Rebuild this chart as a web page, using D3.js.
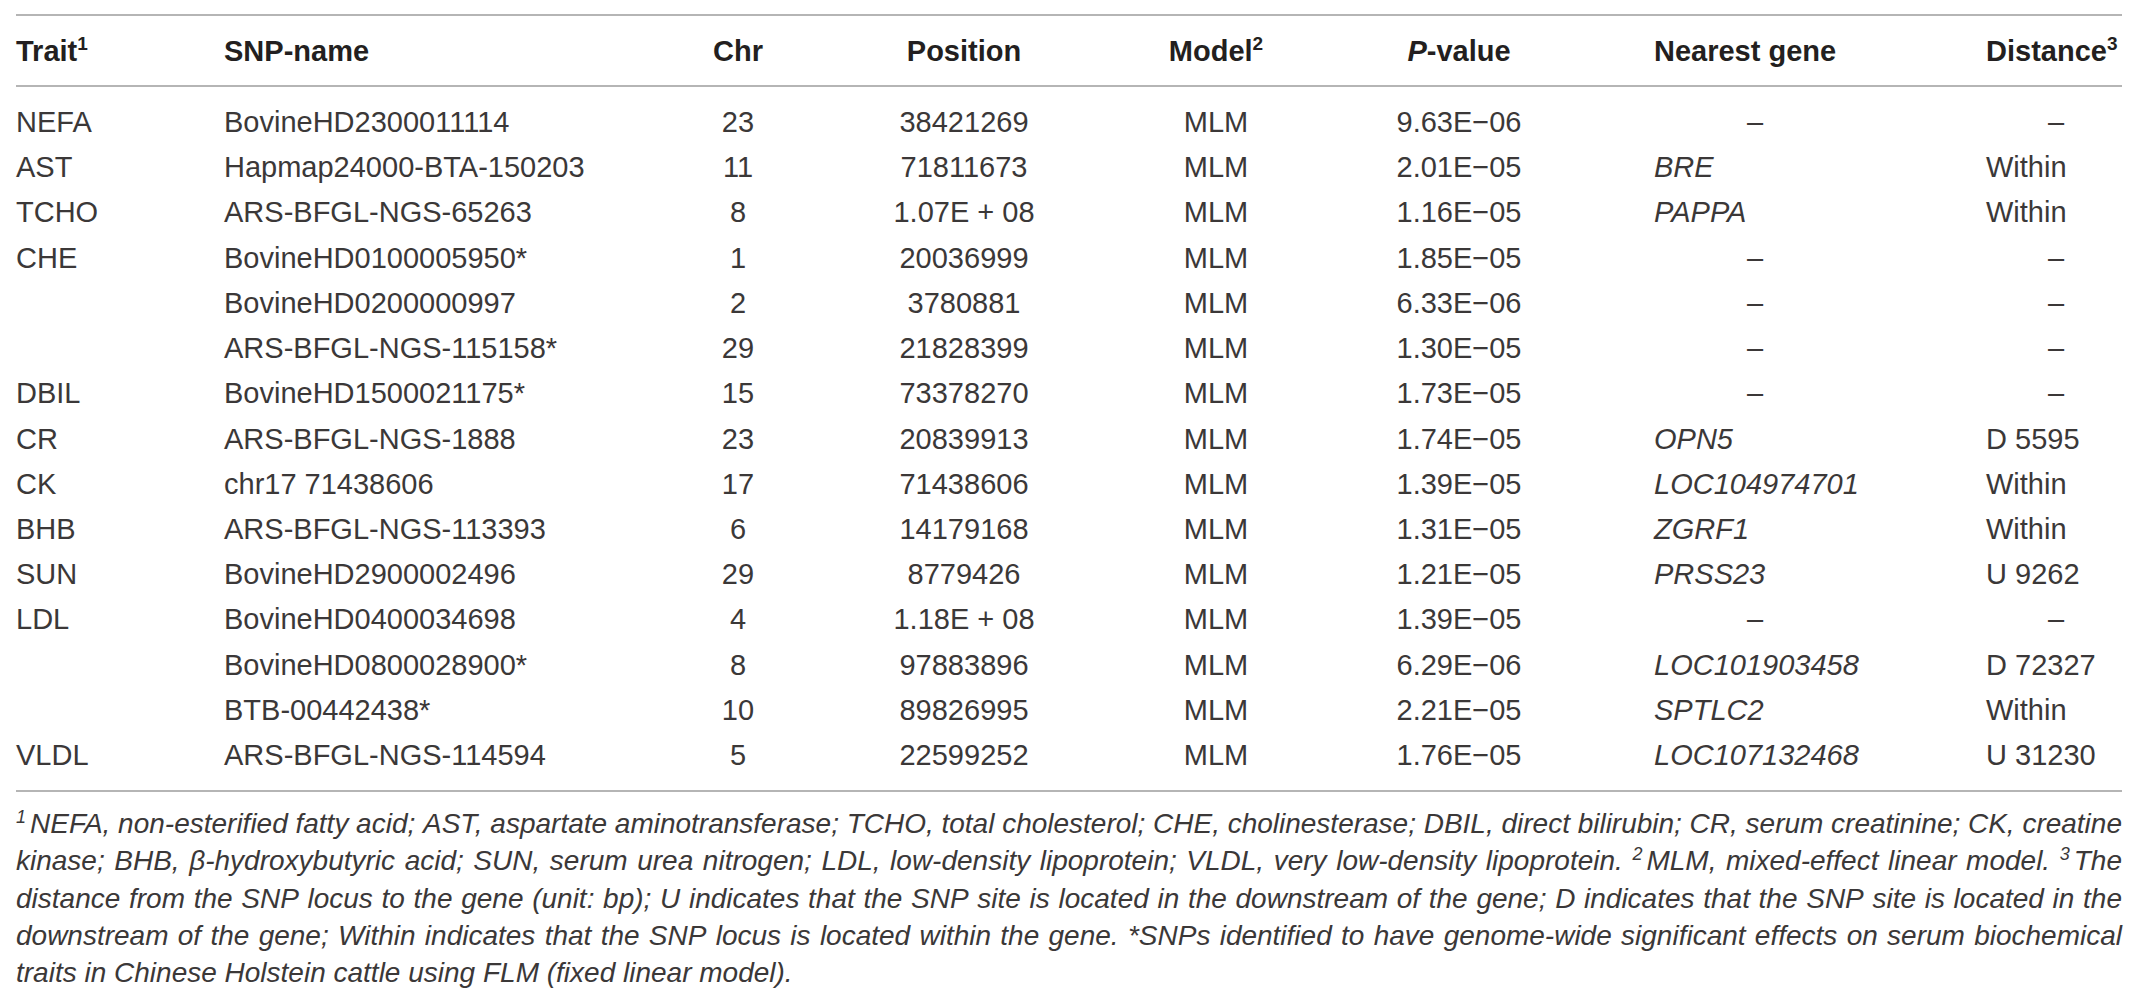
<!doctype html>
<html lang="en">
<head>
  <meta charset="utf-8">
  <title>SNP table</title>
</head>
<body style="overflow: hidden; margin: 0; background: #fff;">
  <script src="https://cdnjs.cloudflare.com/ajax/libs/d3/7.8.5/d3.min.js"></script>
  <script type="text/javascript">

    // table data, one array per column
    let traits = ["NEFA", "AST", "TCHO", "CHE", "", "", "DBIL", "CR", "CK", "BHB", "SUN", "LDL", "", "", "VLDL"];
    let snpNames = ["BovineHD2300011114", "Hapmap24000-BTA-150203", "ARS-BFGL-NGS-65263", "BovineHD0100005950*",
      "BovineHD0200000997", "ARS-BFGL-NGS-115158*", "BovineHD1500021175*", "ARS-BFGL-NGS-1888", "chr17 71438606",
      "ARS-BFGL-NGS-113393", "BovineHD2900002496", "BovineHD0400034698", "BovineHD0800028900*", "BTB-00442438*",
      "ARS-BFGL-NGS-114594"];
    let chrs = [23, 11, 8, 1, 2, 29, 15, 23, 17, 6, 29, 4, 8, 10, 5];
    let positions = ["38421269", "71811673", "1.07E + 08", "20036999", "3780881", "21828399", "73378270", "20839913",
      "71438606", "14179168", "8779426", "1.18E + 08", "97883896", "89826995", "22599252"];
    let models = ["MLM", "MLM", "MLM", "MLM", "MLM", "MLM", "MLM", "MLM", "MLM", "MLM", "MLM", "MLM", "MLM", "MLM", "MLM"];
    let pValues = ["9.63E\u221206", "2.01E\u221205", "1.16E\u221205", "1.85E\u221205", "6.33E\u221206", "1.30E\u221205",
      "1.73E\u221205", "1.74E\u221205", "1.39E\u221205", "1.31E\u221205", "1.21E\u221205", "1.39E\u221205",
      "6.29E\u221206", "2.21E\u221205", "1.76E\u221205"];
    let genes = ["\u2013", "BRE", "PAPPA", "\u2013", "\u2013", "\u2013", "\u2013", "OPN5", "LOC104974701", "ZGRF1",
      "PRSS23", "\u2013", "LOC101903458", "SPTLC2", "LOC107132468"];
    let distances = ["\u2013", "Within", "Within", "\u2013", "\u2013", "\u2013", "\u2013", "D 5595", "Within", "Within",
      "U 9262", "\u2013", "D 72327", "Within", "U 31230"];

    let headers = ["Trait", "SNP-name", "Chr", "Position", "Model", "-value", "Nearest gene", "Distance"];
    let headerItalic = ["", "", "", "", "", "P", "", ""];
    let headerSups = ["1", "", "", "", "2", "", "", "3"];

    // footnote, already broken into the printed lines; ^n marks a superscript
    let footLines = [
      "^1NEFA, non-esterified fatty acid; AST, aspartate aminotransferase; TCHO, total cholesterol; CHE, cholinesterase; DBIL, direct bilirubin; CR, serum creatinine; CK, creatine",
      "kinase; BHB, \u03b2-hydroxybutyric acid; SUN, serum urea nitrogen; LDL, low-density lipoprotein; VLDL, very low-density lipoprotein. ^2MLM, mixed-effect linear model. ^3The",
      "distance from the SNP locus to the gene (unit: bp); U indicates that the SNP site is located in the downstream of the gene; D indicates that the SNP site is located in the",
      "downstream of the gene; Within indicates that the SNP locus is located within the gene. *SNPs identified to have genome-wide significant effects on serum biochemical",
      "traits in Chinese Holstein cattle using FLM (fixed linear model)."
    ];

    var config = {
      "width": 2140,
      "height": 1005,
      "left": 16,
      "right": 2122,
      "topRule": 15,
      "headRule": 86,
      "bottomRule": 791,
      "headBase": 61,
      "font": "'Liberation Sans', Arial, Helvetica, sans-serif",
      "size": 29,
      "footSize": 28,
      "ink": "#231f20",
      "bodyInk": "#3b3838"
    }

    let columns = [
      { values: traits, x: 16, anchor: "start" },
      { values: snpNames, x: 224, anchor: "start" },
      { values: chrs, x: 738, anchor: "middle" },
      { values: positions, x: 964, anchor: "middle" },
      { values: models, x: 1216, anchor: "middle" },
      { values: pValues, x: 1459, anchor: "middle" },
      { values: genes, x: 1654, anchor: "start", dashX: 1755, italic: true },
      { values: distances, x: 1986, anchor: "start", dashX: 2056 }
    ];

    let svg = d3.select("body").append("svg")
      .attr("width", config.width)
      .attr("height", config.height)
      .style("font-family", config.font);

    let y = d3.scalePoint()
      .domain(d3.range(traits.length))
      .range([132, 765]);

    // rules
    [config.topRule, config.headRule, config.bottomRule].forEach(ry => {
      svg.append("line")
        .attr("x1", config.left).attr("x2", config.right)
        .attr("y1", ry).attr("y2", ry)
        .attr("stroke", "#9d9d9d")
        .attr("stroke-width", 1.6);
    });

    // header row
    columns.forEach((c, i) => {
      let t = svg.append("text")
        .attr("x", c.x)
        .attr("y", config.headBase)
        .attr("text-anchor", i == 6 || i == 7 ? "start" : c.anchor)
        .attr("font-size", config.size)
        .attr("font-weight", "bold")
        .attr("fill", config.ink);
      if (headerItalic[i]) t.append("tspan").attr("font-style", "italic").text(headerItalic[i]);
      t.append("tspan").text(headers[i]);
      if (headerSups[i]) {
        t.append("tspan").attr("font-size", 19).attr("dy", -11).text(headerSups[i]);
      }
    });

    // body cells
    columns.forEach(c => {
      svg.append("g").selectAll("text")
        .data(c.values)
        .join("text")
        .attr("x", d => (d === "\u2013" && c.dashX) ? c.dashX : c.x)
        .attr("y", (d, i) => y(i))
        .attr("text-anchor", d => (d === "\u2013" && c.dashX) ? "middle" : c.anchor)
        .attr("font-size", config.size)
        .attr("font-style", d => c.italic && d !== "\u2013" ? "italic" : "normal")
        .attr("fill", config.bodyInk)
        .text(d => d);
    });

    // footnote, justified line by line
    let fy = d3.scalePoint()
      .domain(d3.range(footLines.length))
      .range([833, 982]);

    footLines.forEach((line, li) => {
      let words = line.split(" ");
      let g = svg.append("g");
      let nodes = words.map(w => {
        let t = g.append("text")
          .attr("y", fy(li))
          .attr("font-size", config.footSize)
          .attr("font-style", "italic")
          .attr("fill", config.bodyInk);
        let m = w.match(/^\^(\d)(.*)$/);
        if (m) {
          t.append("tspan").attr("font-size", 18).attr("dy", -10).text(m[1]);
          t.append("tspan").attr("dy", 10).attr("dx", 4).text(m[2]);
        } else {
          t.text(w);
        }
        return t;
      });
      let widths = nodes.map(t => t.node().getComputedTextLength() + (t.selectAll("tspan").size() ? 4 : 0));
      let total = d3.sum(widths);
      let last = li == footLines.length - 1;
      let gap = last ? config.footSize * 0.278 : (config.right - config.left - total) / (words.length - 1);
      let x = config.left;
      nodes.forEach((t, k) => {
        t.attr("x", x);
        x += widths[k] + gap;
      });
    });
  </script>
</body>
</html>
